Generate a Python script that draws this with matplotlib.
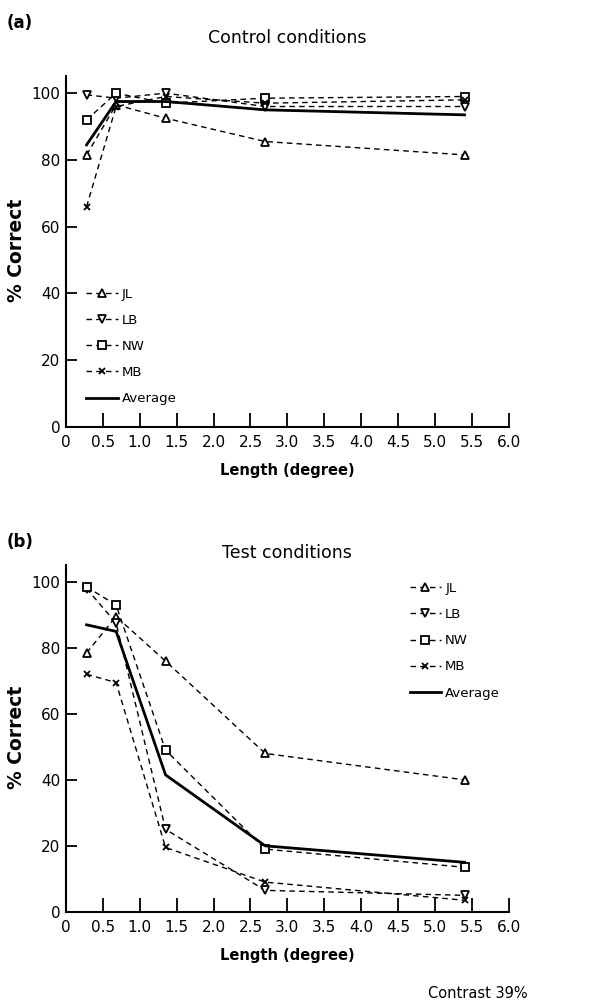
import matplotlib
matplotlib.use("Agg")
import matplotlib.pyplot as plt

plt.rcParams['font.family'] = ['DejaVu Sans']

# stimulus lengths (degree)
lengths = [0.28, 0.68, 1.35, 2.7, 5.4]

# control conditions, % correct
ctrl_JL = [81.5, 96.5, 92.5, 85.5, 81.5]
ctrl_LB = [99.5, 98.5, 100, 96, 96]
ctrl_NW = [92, 100, 97, 98.5, 99]
ctrl_MB = [66, 96, 99, 97, 98]
ctrl_avg = [84.5, 97.5, 97.5, 95, 93.5]

# test conditions, % correct
test_JL = [78.5, 89.5, 76, 48, 40]
test_LB = [98, 87.5, 25, 6.5, 5]
test_NW = [98.5, 93, 49, 19, 13.5]
test_MB = [72, 69.5, 19.5, 9, 3.5]
test_avg = [87, 85, 41.5, 20, 15]

subjects = ["JL", "LB", "NW", "MB"]
markers = ["^", "v", "s", "x"]

xticks = [0, 0.5, 1.0, 1.5, 2.0, 2.5, 3.0, 3.5, 4.0, 4.5, 5.0, 5.5, 6.0]
xticklabels = ["0"] + ["%.1f" % t for t in xticks[1:]]
yticks = [0, 20, 40, 60, 80, 100]


def draw_panel(ax, series, avg, title, title_y, letter, letter_y, legend_kw):
    for name, mk, vals in zip(subjects, markers, series):
        ax.plot(lengths, vals, linestyle=(0, (4, 3)), color="black", lw=1.0,
                marker=mk, markersize=6 if mk != "x" else 5,
                markerfacecolor="white", markeredgecolor="black",
                markeredgewidth=1.3, label=name)
    ax.plot(lengths, avg, color="black", lw=2.0, label="Average")

    ax.set_xlim(0, 6.0)
    ax.set_ylim(0, 106)
    ax.set_xticks(xticks)
    ax.set_xticklabels(xticklabels)
    ax.set_yticks(yticks)
    for s in ["top", "right"]:
        ax.spines[s].set_visible(False)
    ax.spines["left"].set_linewidth(1.5)
    ax.spines["bottom"].set_linewidth(1.5)
    ax.spines["left"].set_bounds(0, 105)
    ax.tick_params(axis="x", direction="in", length=10, width=1.3,
                   labelsize=11, pad=6)
    ax.tick_params(axis="y", direction="in", length=8, width=1.3,
                   labelsize=11, pad=4)
    ax.set_xlabel("Length (degree)", fontsize=10.5, fontweight="bold", labelpad=9)
    ax.set_ylabel("% Correct", fontsize=13.5, fontweight="bold", labelpad=4)
    ax.text(0.5, title_y, title, transform=ax.transAxes, fontsize=12.5,
            ha="center", va="center")
    ax.text(-0.133, letter_y, letter, transform=ax.transAxes, fontsize=12,
            fontweight="bold", ha="left", va="center")
    ax.legend(frameon=False, fontsize=9.5, handlelength=2.4, handletextpad=0.3,
              labelspacing=1.0, borderpad=0.2, **legend_kw)


fig = plt.figure(figsize=(6.16, 10.02), dpi=100)
ax1 = fig.add_axes([0.107, 0.574, 0.719, 0.353])
ax2 = fig.add_axes([0.107, 0.090, 0.719, 0.349])

draw_panel(ax1, [ctrl_JL, ctrl_LB, ctrl_NW, ctrl_MB], ctrl_avg,
           "Control conditions", 1.099, "(a)", 1.141,
           dict(loc="upper left", bbox_to_anchor=(0.025, 0.42)))
draw_panel(ax2, [test_JL, test_LB, test_NW, test_MB], test_avg,
           "Test conditions", 1.026, "(b)", 1.057,
           dict(loc="upper left", bbox_to_anchor=(0.755, 0.97)))

fig.text(428 / 616, 1 - 993 / 1002, "Contrast 39%", fontsize=10.5,
         ha="left", va="center")

fig.savefig("out.png", dpi=100)
